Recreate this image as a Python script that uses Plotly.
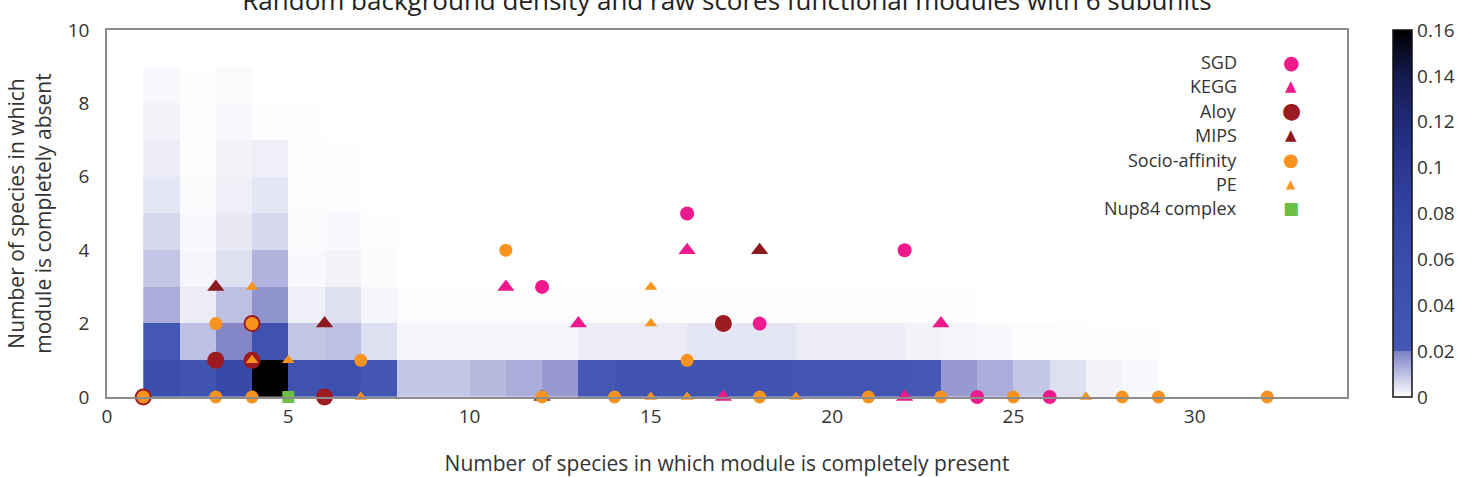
import plotly.graph_objects as go

# ---------------- data ----------------
present_edges = list(range(1, 30))   # bin edges for "completely present" (28 bins)
absent_edges = list(range(0, 10))    # bin edges for "completely absent" (9 bins)

density_row0 = [0.050, 0.035, 0.065, 0.160, 0.040, 0.045, 0.026, 0.009, 0.009, 0.011, 0.013, 0.016, 0.021, 0.032,
                0.034, 0.036, 0.036, 0.035, 0.031, 0.031, 0.031, 0.024, 0.016, 0.013, 0.009, 0.005, 0.002, 0.001]
density_row1 = [0.022, 0.010, 0.019, 0.040, 0.009, 0.010, 0.005, 0.0015, 0.0015, 0.0015, 0.0015, 0.0015, 0.003, 0.003,
                0.003, 0.004, 0.004, 0.004, 0.003, 0.003, 0.003, 0.002, 0.0015, 0.001, 0.0005, 0.0003, 0.0002, 0.0001]
density_row2 = [0.013, 0.003, 0.010, 0.017, 0.0025, 0.005, 0.0015, 0.0005, 0.0005, 0.0005, 0.0005, 0.0005, 0.0005, 0.0005,
                0.0005, 0.0005, 0.0005, 0.0005, 0.0004, 0.0004, 0.0004, 0.0003, 0.0002, 0, 0, 0, 0, 0]
density_row3 = [0.009, 0.0015, 0.005, 0.012, 0.001, 0.002, 0.0007, 0, 0, 0, 0, 0, 0, 0,
                0, 0, 0, 0, 0, 0, 0, 0, 0, 0, 0, 0, 0, 0]
density_row4 = [0.006, 0.001, 0.0035, 0.006, 0.0007, 0.001, 0.0003, 0, 0, 0, 0, 0, 0, 0,
                0, 0, 0, 0, 0, 0, 0, 0, 0, 0, 0, 0, 0, 0]
density_row5 = [0.004, 0.0007, 0.0025, 0.004, 0.0005, 0.0005, 0, 0, 0, 0, 0, 0, 0, 0,
                0, 0, 0, 0, 0, 0, 0, 0, 0, 0, 0, 0, 0, 0]
density_row6 = [0.003, 0.0005, 0.002, 0.0025, 0.0003, 0.0002, 0, 0, 0, 0, 0, 0, 0, 0,
                0, 0, 0, 0, 0, 0, 0, 0, 0, 0, 0, 0, 0, 0]
density_row7 = [0.002, 0.0004, 0.0012, 0.0005, 0.0002, 0, 0, 0, 0, 0, 0, 0, 0, 0,
                0, 0, 0, 0, 0, 0, 0, 0, 0, 0, 0, 0, 0, 0]
density_row8 = [0.001, 0.0002, 0.0008, 0, 0, 0, 0, 0, 0, 0, 0, 0, 0, 0,
                0, 0, 0, 0, 0, 0, 0, 0, 0, 0, 0, 0, 0, 0]

sgd_x = [16, 22, 12, 18, 24, 26]
sgd_y = [5, 4, 3, 2, 0, 0]
kegg_x = [16, 11, 13, 23, 17, 22]
kegg_y = [4, 3, 2, 2, 0, 0]
aloy_x = [1, 3, 4, 4, 6, 17]
aloy_y = [0, 1, 1, 2, 0, 2]
mips_x = [3, 6, 18, 12]
mips_y = [3, 2, 4, 0]
socio_x = [1, 3, 4, 3, 4, 7, 11, 16, 12, 14, 18, 21, 23, 25, 28, 29, 32]
socio_y = [0, 0, 0, 2, 2, 1, 4, 1, 0, 0, 0, 0, 0, 0, 0, 0, 0]
pe_x = [4, 4, 5, 7, 15, 15, 15, 16, 19, 27]
pe_y = [3, 1, 1, 0, 3, 2, 0, 0, 0, 0]
nup_x = [5]
nup_y = [0]

cbar_ticks = [0, 0.02, 0.04, 0.06, 0.08, 0.1, 0.12, 0.14, 0.16]
cbar_labels = ["0", "0.02", "0.04", "0.06", "0.08", "0.1", "0.12", "0.14", "0.16"]
legend_names = ["SGD", "KEGG", "Aloy", "MIPS", "Socio-affinity", "PE", "Nup84 complex"]

# ---------------- style ----------------
FONT = "Open Sans"
TXT = "#333333"
PINK = "#ec1a8d"
DRED = "#9b1b20"
MRED = "#8a1a1e"
ORANGE = "#f7931e"
GREEN = "#6cbf45"

colorscale = [
    [0.0, "#ffffff"],
    [0.124, "#7d82c6"],
    [0.126, "#4658b4"],
    [0.25, "#3f52b0"],
    [0.375, "#3a4bab"],
    [0.5, "#3343a2"],
    [0.625, "#2b3893"],
    [0.75, "#212a78"],
    [0.875, "#151a50"],
    [1.0, "#000000"],
]

L, R, T, B = 107, 134, 30, 80
W, H = 1481, 477
PW = W - L - R

z = [density_row0, density_row1, density_row2, density_row3, density_row4,
     density_row5, density_row6, density_row7, density_row8]

fig = go.Figure()
cb_x = (1393 - L) / PW
cb_thick = 19
fig.add_trace(go.Heatmap(
    x=present_edges, y=absent_edges, z=z,
    zmin=0, zmax=0.16, colorscale=colorscale, hoverinfo="skip",
    colorbar=dict(x=cb_x, xanchor="left", xpad=0, y=0.5, yanchor="middle", len=1.0, ypad=0,
                  thickness=cb_thick, outlinecolor="#111111", outlinewidth=1.5,
                  tickvals=cbar_ticks, ticktext=cbar_labels, ticks="",
                  tickfont=dict(family=FONT, size=19, color=TXT)),
))

def sc(x, y, name, symbol, color, size):
    return go.Scatter(x=x, y=y, mode="markers", name=name, cliponaxis=False, showlegend=False,
                      marker=dict(symbol=symbol, color=color, size=size, line=dict(width=0)))

fig.add_trace(sc(sgd_x, sgd_y, "SGD", "circle", PINK, 14))
fig.add_trace(sc(kegg_x, kegg_y, "KEGG", "triangle-up", PINK, 15))
fig.add_trace(sc(aloy_x, aloy_y, "Aloy", "circle", DRED, 17))
fig.add_trace(sc(mips_x, mips_y, "MIPS", "triangle-up", MRED, 15))
fig.add_trace(sc(socio_x, socio_y, "Socio-affinity", "circle", ORANGE, 13))
fig.add_trace(sc(pe_x, pe_y, "PE", "triangle-up", ORANGE, 11))
fig.add_trace(sc(nup_x, nup_y, "Nup84 complex", "square", GREEN, 12))

# legend drawn as text (label, then symbol on the right)
legend_glyphs = [("●", PINK, 19), ("▲", PINK, 15), ("●", DRED, 22), ("▲", MRED, 15),
                 ("●", ORANGE, 18), ("▲", ORANGE, 12), ("■", GREEN, 17)]
annotations = []
for i, name in enumerate(legend_names):
    ypx = 62 + i * 24.4
    yp = 1 - (ypx - T) / (H - T - B)
    annotations.append(dict(xref="paper", yref="paper", x=(1239 - L) / PW, y=yp, xanchor="right",
                            yanchor="middle", text=name, showarrow=False,
                            font=dict(family=FONT, size=18, color=TXT)))
    g, c, s = legend_glyphs[i]
    annotations.append(dict(xref="paper", yref="paper", x=(1291 - L) / PW, y=yp, xanchor="center",
                            yanchor="middle", text=g, showarrow=False,
                            font=dict(family="DejaVu Sans", size=s, color=c)))

# colorbar separators at the tick levels
shapes = []
for v in cbar_ticks[1:-1]:
    shapes.append(dict(type="line", xref="paper", yref="paper",
                       x0=cb_x, x1=cb_x + cb_thick / PW, y0=v / 0.16, y1=v / 0.16,
                       line=dict(color="#15153a", width=1.5)))

fig.update_layout(
    width=W, height=H,
    margin=dict(l=L, r=R, t=T, b=B, autoexpand=False),
    paper_bgcolor="white", plot_bgcolor="white",
    font=dict(family=FONT, color=TXT),
    title=dict(text="Random background density and raw scores functional modules with 6 subunits",
               x=0.5, xref="paper", y=1 - 1 / H, yref="container", yanchor="middle",
               font=dict(family=FONT, size=26, color="#222222")),
    annotations=annotations,
    shapes=shapes,
    showlegend=False,
)
fig.update_xaxes(range=[0, 34.2], tickvals=[0, 5, 10, 15, 20, 25, 30], ticks="", showgrid=False,
                 zeroline=False, showline=True, linecolor="#8c8c8c", linewidth=1.5, mirror=True,
                 automargin=False,
                 tickfont=dict(family=FONT, size=19, color=TXT), ticklabelstandoff=1,
                 title=dict(text="Number of species in which module is completely present",
                            font=dict(family=FONT, size=21, color=TXT), standoff=31))
fig.update_yaxes(range=[0, 10], tickvals=[0, 2, 4, 6, 8, 10], ticks="", showgrid=False,
                 zeroline=False, showline=True, linecolor="#8c8c8c", linewidth=1.5, mirror=True,
                 automargin=False,
                 tickfont=dict(family=FONT, size=19, color=TXT), ticklabelstandoff=12,
                 title=dict(text="Number of species in which<br>module is completely absent",
                            font=dict(family=FONT, size=21, color=TXT), standoff=10))

fig.write_html("out.html")
